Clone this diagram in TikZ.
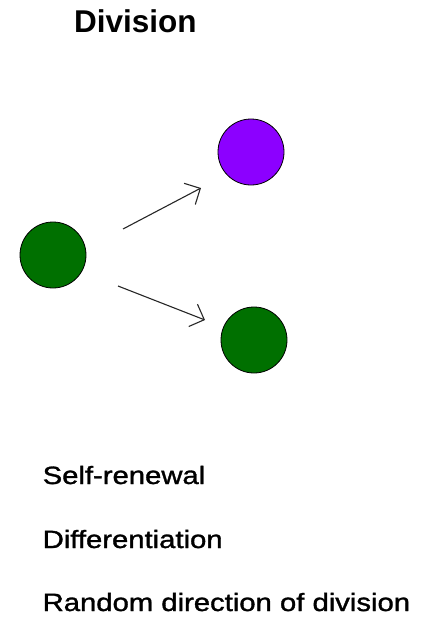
\documentclass[tikz,border=0pt]{standalone}
\usepackage{fontspec}
\setmainfont{Liberation Sans}
\newfontfamily\heavysans[FakeBold=1.2]{Liberation Sans}
\usetikzlibrary{arrows.meta}
\definecolor{cellgreen}{RGB}{0,112,0}
\definecolor{cellpurple}{RGB}{140,0,255}
\tikzset{
  cell/.style={circle, draw=black, line width=0.8pt, minimum size=66pt, inner sep=0pt},
  divarrow/.style={line width=1.1pt, draw=black!85, -{Straight Barb[length=12pt,width=24pt,line width=1.1pt]}},
  label/.style={anchor=base west, inner sep=0pt, font=\heavysans\fontsize{25}{30}\selectfont},
  title/.style={anchor=base west, inner sep=0pt, font=\fontsize{31.5}{36}\selectfont\bfseries}
}
\begin{document}
\begin{tikzpicture}[x=1pt,y=-1pt]
\useasboundingbox (0,0) rectangle (438,618);
\node[title] (ttl) at (74,33) {Division};
\node[cell, fill=cellgreen] (mother) at (53,255) {};
\node[cell, fill=cellpurple] (diff) at (251,152) {};
\node[cell, fill=cellgreen] (renew) at (254,340) {};
\coordinate (a1s) at (123,229);
\coordinate (a1e) at (201,188);
\coordinate (a2s) at (118,286);
\coordinate (a2e) at (205,320);
\draw[divarrow] (a1s) -- (a1e);
\draw[divarrow] (a2s) -- (a2e);
\node[label] (l1) at (42.5,484) {\scalebox{1.17}[1]{Self-renewal}};
\node[label] (l2) at (42.5,548) {\scalebox{1.17}[1]{Differentiation}};
\node[label] (l3) at (42.5,611) {\scalebox{1.17}[1]{Random direction of division}};
\end{tikzpicture}
\end{document}
